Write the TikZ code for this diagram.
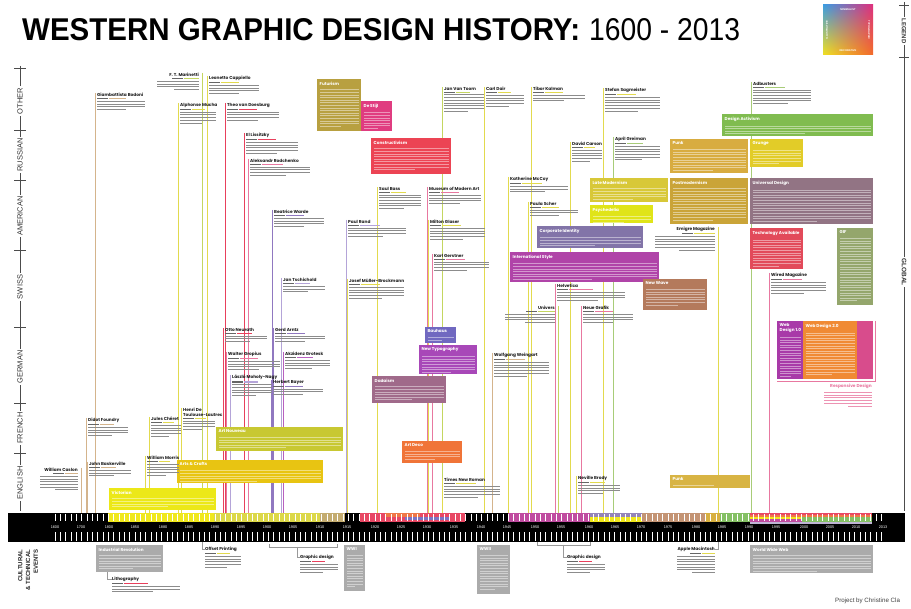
\documentclass[tikz,border=0pt]{standalone}
\usepackage{fontspec}
\usepackage{graphicx}
\setmainfont{Liberation Sans}
\newfontfamily\hf{Poppins}
\usetikzlibrary{shadings}
\pgfdeclarelayer{bg}
\pgfsetlayers{bg,main}
% line colours
\definecolor{cTan}{HTML}{D4B48C}
\definecolor{cYel}{HTML}{E2DA4E}
\definecolor{cYG}{HTML}{C4D660}
\definecolor{cRed}{HTML}{E8405C}
\definecolor{cPink}{HTML}{E878A0}
\definecolor{cPurp}{HTML}{9078C0}
\definecolor{cLav}{HTML}{B4A4D8}
\definecolor{cMag}{HTML}{B860C0}
\definecolor{cGrn}{HTML}{A8CC78}
\definecolor{cGray}{HTML}{ABABAB}
% box colours
\definecolor{bNouv}{HTML}{C8C832}
\definecolor{bCraft}{HTML}{E8C412}
\definecolor{bVict}{HTML}{ECE818}
\definecolor{bFut}{HTML}{B8A040}
\definecolor{bStijl}{HTML}{E03C80}
\definecolor{bCons}{HTML}{EC4454}
\definecolor{bBau}{HTML}{7068C0}
\definecolor{bNewT}{HTML}{A848B8}
\definecolor{bDada}{HTML}{A06A8A}
\definecolor{bDeco}{HTML}{F07438}
\definecolor{bLate}{HTML}{D8C838}
\definecolor{bPsy}{HTML}{E0E418}
\definecolor{bCorp}{HTML}{8274A8}
\definecolor{bInt}{HTML}{B044A8}
\definecolor{bWave}{HTML}{B47A5C}
\definecolor{bAct}{HTML}{80BC50}
\definecolor{bPunk}{HTML}{D8AC40}
\definecolor{bGrun}{HTML}{E2CC28}
\definecolor{bPost}{HTML}{CAA438}
\definecolor{bUniv}{HTML}{927484}
\definecolor{bTech}{HTML}{E24A5A}
\definecolor{bGif}{HTML}{94A66C}
\definecolor{bWebA}{HTML}{A83AA8}
\definecolor{bWebB}{HTML}{F08A34}
\definecolor{bWebC}{HTML}{D84C8C}
\definecolor{bMu}{HTML}{D8B444}
% strip colours
\definecolor{sYa}{HTML}{F0E81C}
\definecolor{sYb}{HTML}{DCD848}
\definecolor{sKh}{HTML}{C4AC70}
\definecolor{sRd}{HTML}{E84864}
\definecolor{sOr}{HTML}{F07848}
\definecolor{sBl}{HTML}{7C74C4}
\definecolor{sMg}{HTML}{C04CA0}
\definecolor{sPu}{HTML}{9484B8}
\definecolor{sTn}{HTML}{C49474}
\definecolor{sMu}{HTML}{D8B040}
\definecolor{sGn}{HTML}{84C064}
% legend colours
\definecolor{lgUL}{HTML}{3C9EE0}
\definecolor{lgUR}{HTML}{E0307C}
\definecolor{lgLL}{HTML}{F2E020}
\definecolor{lgLR}{HTML}{F26A2A}
\tikzset{
  hd/.style={font=\hf\bfseries\fontsize{4.3}{4.9}\selectfont, inner sep=0pt, anchor=north west, align=left, text=black!88},
  hdr/.style={hd, anchor=north east, align=right},
  vl/.style={line width=0.65pt},
  tx/.style={fill=black!45},
  bxs/.style={inner sep=0pt, anchor=north west, draw=none},
  bh/.style={font=\hf\bfseries\fontsize{4.2}{4.8}\selectfont, text=white, inner sep=0pt, anchor=north west, align=left},
  lane/.style={rotate=90, fill=white, inner sep=1.5pt, font=\fontsize{7.5}{7.5}\selectfont, text=black!80},
  axisln/.style={draw=black!70, line width=0.6pt},
  gl/.style={draw=black!40, line width=0.5pt},
  yl/.style={font=\fontsize{3.8}{3.8}\selectfont, text=white, inner sep=0pt},
}
% left-aligned entry, no line: id,x,y,colour,name,nlines,width
\newcommand\txl[7]{%
  \node[hd] (#1) at (#2,#3) {#5};
  \fill[black!60] ([shift={(0,1.3)}]#1.south west) rectangle ++(11,1.1);
  \pgfmathsetmacro\dw{#7*0.35}%
  \fill[#4] ([shift={(12,1.3)}]#1.south west) rectangle ++(\dw,1.1);
  \foreach \k in {1,...,#6}{%
    \pgfmathsetmacro\ww{#7*(\k==#6 ? 0.6 : 1)}%
    \fill[tx] ([shift={(0,1.3+\k*2.7)}]#1.south west) rectangle ++(\ww,1.0);
  }%
}
% right-aligned entry, no line
\newcommand\txr[7]{%
  \node[hdr] (#1) at (#2,#3) {#5};
  \pgfmathsetmacro\dw{#7*0.35}%
  \fill[#4] ([shift={(-\dw,1.3)}]#1.south east) rectangle ++(\dw,1.1);
  \fill[black!60] ([shift={(-\dw-12,1.3)}]#1.south east) rectangle ++(11,1.1);
  \foreach \k in {1,...,#6}{%
    \pgfmathsetmacro\ww{#7*(\k==#6 ? 0.6 : 1)}%
    \fill[tx] ([shift={(-\ww,1.3+\k*2.7)}]#1.south east) rectangle ++(\ww,1.0);
  }%
}
\newcommand\pl[7]{\txl{#1}{#2}{#3}{#4}{#5}{#6}{#7}%
  \begin{pgfonlayer}{bg}\draw[vl,draw=#4] ([xshift=-2pt]#1.north west) -- ([xshift=-2pt]#1.north west |- bar.north);\end{pgfonlayer}}
\newcommand\pr[7]{\txr{#1}{#2}{#3}{#4}{#5}{#6}{#7}%
  \begin{pgfonlayer}{bg}\draw[vl,draw=#4] ([xshift=3pt]#1.north east) -- ([xshift=3pt]#1.north east |- bar.north);\end{pgfonlayer}}
% box: id,x,y,w,h,colour,heading,nlines
\newcommand\bx[8]{%
  \node[bxs, fill=#6, minimum width=#4pt, minimum height=#5pt] (#1) at (#2,#3) {};
  \node[bh] (#1h) at ([shift={(2.5,2.5)}]#1.north west) {#7};
  \pgfmathsetmacro\bw{#4-5}%
  \foreach \k in {1,...,#8}{%
    \pgfmathsetmacro\ww{\bw*(\k==#8 ? 0.55 : 1)}%
    \fill[white, opacity=.45] ([shift={(0,1.5+\k*2.6)}]#1h.south west) rectangle ++(\ww,1);
  }%
}
\begin{document}
\begin{tikzpicture}[x=1pt,y=-1pt]
\useasboundingbox (0,0) rectangle (911,609);
\begin{pgfonlayer}{bg}\fill[white] (0,0) rectangle (911,609);\end{pgfonlayer}

% ---------- title ----------
\node[anchor=south west, inner sep=0pt] (title) at (22,41) {\resizebox{558pt}{22pt}{\bfseries WESTERN GRAPHIC DESIGN HISTORY:}};
\node[anchor=south west, inner sep=0pt] (years) at (589,41) {\resizebox{151pt}{22pt}{1600 - 2013}};

% ---------- legend ----------
\shade[upper left=lgUL, upper right=lgUR, lower left=lgLL, lower right=lgLR] (823,5) rectangle (873,55);
\node[font=\fontsize{2.6}{2.6}\selectfont\bfseries, text=white, inner sep=0pt] (lgT) at (848,10) {MINIMALIST};
\node[font=\fontsize{2.6}{2.6}\selectfont\bfseries, text=white, inner sep=0pt] (lgB) at (848,51) {DECORATIVE};
\node[font=\fontsize{2.6}{2.6}\selectfont\bfseries, text=white, inner sep=0pt, rotate=90] (lgL) at (827,30) {ILLUSTRATIVE};
\node[font=\fontsize{2.6}{2.6}\selectfont\bfseries, text=white, inner sep=0pt, rotate=-90] (lgR) at (869,30) {TYPOGRAPHIC};

% ---------- right axis ----------
\draw[axisln] (904,2) -- (904,511);
\draw[axisln] (899,5) -- (909,5);
\draw[axisln] (899,57) -- (909,57);
\node[lane, rotate=-180, font=\fontsize{6}{6}\selectfont\bfseries] (legendlab) at (904,31) {LEGEND};
\node[lane, rotate=-180, font=\fontsize{6.5}{6.5}\selectfont\bfseries] (globallab) at (904,272) {GLOBAL};

% ---------- left axis ----------
\draw[axisln] (20,66) -- (20,511);
\foreach \t in {68,130,180,250,327,403,453} \draw[axisln] (14,\t) -- (26,\t);
\node[lane] (lOther) at (20,101) {OTHER};
\node[lane] (lRus) at (20,155) {RUSSIAN};
\node[lane] (lAm) at (20,216) {AMERICAN};
\node[lane] (lSw) at (20,287) {SWISS};
\node[lane] (lGer) at (20,367) {GERMAN};
\node[lane] (lFr) at (20,428) {FRENCH};
\node[lane] (lEn) at (20,483) {ENGLISH};
\node[rotate=90, align=right, inner sep=0pt, font=\bfseries\fontsize{6}{7.8}\selectfont, text=black!85] (cult) at (28,570) {CULTURAL\\\& TECHNICAL\\EVENTS};

% ---------- time bar ----------
\node[fill=black, inner sep=0pt, anchor=north west, minimum width=897pt, minimum height=29pt] (bar) at (8,513) {};
\foreach \a/\b/\c in {108/214/sYa, 214/320/sYb, 320/345/sKh, 360/465/sRd, 508/590/sMg, 590/642/sYa, 642/705/sTn, 705/720/sMu, 720/750/sGn, 750/872/sRd}
  \fill[\c] (\a,513.5) rectangle (\b,522);
\fill[sOr] (385,513.5) rectangle (420,517.5);
\fill[sBl] (405,517.5) rectangle (450,520.5);
\fill[sPu] (590,513.5) rectangle (642,517.5);
\fill[sOr] (750,515.5) rectangle (872,517.5);
\fill[sYa] (750,517.5) rectangle (802,519.5);
\fill[sMg] (750,519.5) rectangle (802,522);
\fill[sGn] (802,517.5) rectangle (872,522);
\fill[sPu!60] (750,522) rectangle (872,524);
\foreach \x in {55,60.33,...,886} {
  \draw[white, line width=0.35pt] (\x,514) -- (\x,521.5);
  \draw[white, line width=0.35pt] (\x,532.5) -- (\x,541);
}
\foreach \x/\y in {55/1600, 81/1700, 109/1800, 135/1850, 163/1880, 189/1885, 215/1890, 241/1895, 267/1900, 293/1905, 320/1910, 347/1915, 375/1920, 401/1925, 427/1930, 454/1935, 481/1940, 507/1945, 535/1950, 561/1955, 589/1960, 615/1965, 641/1970, 668/1975, 696/1980, 722/1985, 749/1990, 776/1995, 804/2000, 830/2005, 856/2010, 883/2013}
  \node[yl] (yr\y) at (\x,527.5) {\y};

% ---------- movement boxes ----------
\bx{victorian}{109}{488}{107}{22}{bVict}{Victorian}{4}
\bx{artscrafts}{177}{460}{146}{23}{bCraft}{Arts \& Crafts}{5}
\bx{artnouveau}{216}{427}{127}{24}{bNouv}{Art Nouveau}{5}
\bx{futurism}{317}{79}{44}{52}{bFut}{Futurism}{15}
\bx{destijl}{361}{101}{31}{30}{bStijl}{De Stijl}{7}
\bx{constructivism}{371}{138}{80}{36}{bCons}{Constructivism}{9}
\bx{bauhaus}{425}{327}{31}{16}{bBau}{Bauhaus}{2}
\bx{newtypo}{419}{345}{58}{29}{bNewT}{New Typography}{7}
\bx{dada}{372}{376}{74}{27}{bDada}{Dadaism}{6}
\bx{artdeco}{402}{441}{60}{22}{bDeco}{Art Deco}{4}
\bx{latemod}{590}{178}{78}{24}{bLate}{Late Modernism}{5}
\bx{psyche}{590}{205}{63}{18}{bPsy}{Psychedelia}{3}
\bx{corpid}{537}{226}{106}{22}{bCorp}{Corporate Identity}{4}
\bx{intstyle}{510}{252}{149}{30}{bInt}{International Style}{7}
\bx{newwave}{643}{279}{64}{31}{bWave}{New Wave}{7}
\bx{designact}{722}{114}{151}{22}{bAct}{Design Activism}{4}
\bx{punk}{670}{139}{78}{34}{bPunk}{Punk}{9}
\bx{grunge}{750}{139}{53}{28}{bGrun}{Grunge}{6}
\bx{postmod}{670}{178}{78}{46}{bPost}{Postmodernism}{13}
\bx{universal}{750}{178}{123}{46}{bUniv}{Universal Design}{13}
\bx{tech}{750}{228}{53}{41}{bTech}{Technology Available}{11}
\bx{gif}{837}{228}{36}{77}{bGif}{GIF}{25}
\bx{webone}{777}{321}{26}{58}{bWebA}{Web\\Design 1.0}{16}
\bx{webtwo}{803}{321}{54}{58}{bWebB}{Web Design 2.0}{17}
\node[bxs, fill=bWebC, minimum width=16pt, minimum height=58pt] (webthree) at (857,321) {};
\bx{punktwo}{670}{475}{80}{13}{bMu}{Punk}{1}
\draw[cPink, line width=0.5pt] ([xshift=1.5pt]webthree.north east) |- ([yshift=-1.5pt]webone.south west);

% ---------- people: left half ----------
\pl{bodoni}{97}{93}{cTan}{Giambattista Bodoni}{4}{48}
\pr{marinetti}{199}{73}{cYG}{F. T. Marinetti}{4}{42}
\pl{cappiello}{209}{76}{cYel}{Leonetto Cappiello}{4}{50}
\pl{mucha}{180}{103}{cYel}{Alphonse Mucha}{5}{36}
\pl{doesburg}{227}{103}{cRed}{Theo van Doesburg}{4}{52}
\pl{lissitzky}{246}{133}{cRed}{El Lissitzky}{5}{52}
\pl{rodchenko}{250}{159}{cPink}{Aleksandr Rodchenko}{4}{60}
\pl{warde}{274}{210}{cPurp}{Beatrice Warde}{4}{50}
\pl{tschichold}{283}{278}{cLav}{Jan Tschichold}{3}{42}
\pl{neurath}{225}{328}{cRed}{Otto Neurath}{3}{42}
\pl{gropius}{228}{352}{cPink}{Walter Gropius}{4}{52}
\pl{moholy}{232}{375}{cLav}{László Moholy-Nagy}{5}{40}
\pl{arntz}{275}{328}{cPurp}{Gerd Arntz}{3}{50}
\pl{akzidenz}{285}{352}{cMag}{Akzidenz Grotesk}{4}{45}
\pl{bayer}{273}{380}{cPurp}{Herbert Bayer}{3}{50}
\pl{didot}{88}{418}{cTan}{Didot Foundry}{4}{40}
\pl{baskerville}{89}{462}{cTan}{John Baskerville}{3}{42}
\pr{caslon}{78}{468}{cTan}{William Caslon}{6}{38}
\pl{cheret}{151}{417}{cYel}{Jules Chéret}{5}{30}
\pl{lautrec}{183}{408}{cYel}{Henri De\\Toulouse-Lautrec}{4}{32}
\pl{morris}{147}{456}{cYel}{William Morris}{5}{32}

% ---------- people: middle and right ----------
\pl{toorn}{444}{87}{cYG}{Jan Van Toorn}{7}{40}
\pl{dair}{486}{87}{cYel}{Carl Dair}{5}{38}
\pl{kalman}{533}{87}{cYel}{Tibor Kalman}{3}{52}
\pl{sagmeister}{605}{88}{cYel}{Stefan Sagmeister}{6}{55}
\pl{carson}{572}{142}{cYel}{David Carson}{5}{30}
\pl{greiman}{615}{137}{cGrn}{April Greiman}{6}{45}
\pl{mccoy}{510}{177}{cYel}{Katherine McCoy}{3}{58}
\pl{scher}{530}{202}{cYel}{Paula Scher}{3}{48}
\pl{bass}{379}{187}{cYel}{Saul Bass}{6}{42}
\pl{moma}{429}{187}{cPink}{Museum of Modern Art}{4}{52}
\pl{rand}{348}{220}{cLav}{Paul Rand}{4}{58}
\pl{glaser}{430}{220}{cYel}{Milton Glaser}{5}{55}
\pl{gerstner}{434}{254}{cPink}{Karl Gerstner}{4}{55}
\pl{muller}{349}{279}{cYel}{Josef Müller-Brockmann}{5}{55}
\pl{helvetica}{557}{284}{cPink}{Helvetica}{4}{68}
\pr{univers}{555}{306}{cYG}{Univers}{4}{50}
\pl{neuegrafik}{583}{306}{cPink}{Neue Grafik}{4}{50}
\pl{weingart}{494}{353}{cTan}{Wolfgang Weingart}{6}{55}
\pl{tnr}{444}{478}{cYel}{Times New Roman}{5}{56}
\pl{brody}{578}{476}{cYel}{Neville Brody}{4}{42}
\pl{adbusters}{753}{82}{cGrn}{Adbusters}{6}{58}
\pr{emigre}{715}{227}{cYel}{Emigre Magazine}{6}{60}
\pl{wired}{771}{273}{cPink}{Wired Magazine}{5}{55}
\node[hdr, text=cPink] (resp) at (872,384) {Responsive Design};
\foreach \k in {1,...,6}{%
  \pgfmathsetmacro\ww{48*(\k==6 ? 0.5 : 1)}%
  \fill[cPink!80] ([shift={(-\ww,0.3+\k*2.7)}]resp.south east) rectangle ++(\ww,1.0);
}

% ---------- cultural and technical events ----------
\bx{industrial}{96}{545}{67}{27}{cGray}{Industrial Revolution}{6}
\txl{litho}{112}{577}{cRed}{Lithography}{3}{68}
\draw[gl] ([xshift=11pt]industrial.south west) |- (litho.west);
\txl{offset}{205}{547}{cYel}{Offset Printing}{5}{36}
\draw[gl] ([xshift=-3pt]offset.west |- bar.south) |- (offset.west);
\coordinate (bkAa) at (269,544); \coordinate (bkAb) at (269,547);
\coordinate (bkAc) at (337,547); \coordinate (bkAd) at (337,544);
\coordinate (bkAm) at (297,547);
\draw[gl] (bkAa) -- (bkAb) -- (bkAc) -- (bkAd);
\txl{gdone}{300}{555}{cRed}{Graphic design}{4}{38}
\draw[gl] (bkAm) |- (gdone.west);
\bx{wwi}{344}{545}{21}{46}{cGray}{WWI}{13}
\bx{wwii}{477}{545}{33}{49}{cGray}{WWII}{14}
\coordinate (bkBa) at (537,542); \coordinate (bkBb) at (537,545);
\coordinate (bkBc) at (590,545); \coordinate (bkBd) at (590,542);
\coordinate (bkBm) at (563,545);
\draw[gl] (bkBa) -- (bkBb) -- (bkBc) -- (bkBd);
\txl{gdtwo}{567}{555}{cRed}{Graphic design}{4}{38}
\draw[gl] (bkBm) |- (gdtwo.west);
\txr{apple}{715}{547}{cYel}{Apple Macintosh}{7}{38}
\draw[gl] ([xshift=3pt]apple.east |- bar.south) |- (apple.east);
\bx{www}{750}{545}{123}{28}{cGray}{World Wide Web}{7}

% ---------- credit ----------
\node[anchor=west, inner sep=0pt, font=\fontsize{6.2}{6.2}\selectfont, text=black!75] (credit) at (835,601) {Project by Christine Cla};
\end{tikzpicture}
\end{document}
